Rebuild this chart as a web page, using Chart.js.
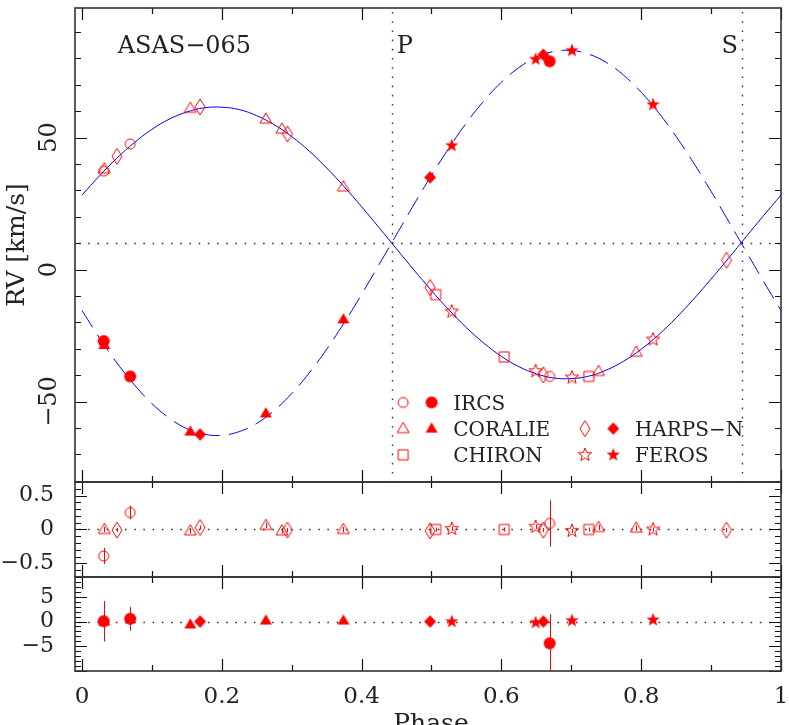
<!DOCTYPE html>
<html><head><meta charset="utf-8">
<script src="https://cdn.jsdelivr.net/npm/chart.js@4/dist/chart.umd.min.js"></script>
<style>html,body{margin:0;padding:0;background:#fff;overflow:hidden}#wrap{width:789px;height:725px;position:relative}</style>
</head><body><div id="wrap"><canvas id="c" width="789" height="725"></canvas></div>
<script>
// ---------------- data ----------------
const ircsPhase  = [0.031, 0.069, 0.669];
const ircsRV1    = [37.3, 47.6, -40.5];
const ircsRV2    = [-27.1, -40.5, 78.9];
const ircsRes1   = [-0.39, 0.25, 0.09];
const ircsErr1   = [0.12, 0.10, 0.34];
const ircsRes2   = [0.06, 0.55, -4.4];
const ircsErr2   = [4.1, 2.4, 5.9];

const coraliePhase = [0.032, 0.155, 0.263, 0.286, 0.374, 0.739, 0.793];
const coralieRV1   = [38.2, 61.1, 57.0, 53.2, 31.3, -38.6, -31.3];
const coralieRV2   = [-28.6, -61.4, -54.5, null, -18.9, null, null];
const coralieRes1  = [0.00, -0.02, 0.06, -0.02, 0.00, 0.03, 0.02];
const coralieErr1  = [0.04, 0.04, 0.04, 0.04, 0.04, 0.04, 0.04];
const coralieRes2  = [0.0, -0.6, 0.2, null, 0.2, null, null];
const coralieErr2  = [0.5, 0.5, 0.5, null, 0.5, null, null];

const harpsPhase = [0.050, 0.169, 0.294, 0.498, 0.660, 0.922];
const harpsRV1   = [42.9, 61.6, 51.4, -6.8, -39.9, 3.5];
const harpsRV2   = [null, -62.5, null, 34.9, 81.4, null];
const harpsRes1  = [-0.01, 0.03, -0.01, -0.02, -0.01, -0.01];
const harpsErr1  = [0.03, 0.03, 0.03, 0.03, 0.03, 0.03];
const harpsRes2  = [null, 0.0, null, 0.0, 0.0, null];
const harpsErr2  = [null, 0.4, null, 0.4, 0.4, null];

const chironPhase = [0.506, 0.604, 0.725];
const chironRV1   = [-9.5, -33.1, -40.5];
const chironRes1  = [0.00, 0.00, 0.00];
const chironErr1  = [0.03, 0.03, 0.03];

const ferosPhase = [0.529, 0.649, 0.701, 0.817];
const ferosRV1   = [-15.9, -38.5, -40.9, -26.5];
const ferosRV2   = [47.0, 79.7, 83.0, 62.5];
const ferosRes1  = [0.01, 0.04, -0.02, 0.00];
const ferosErr1  = [0.03, 0.03, 0.03, 0.03];
const ferosRes2  = [0.0, -0.2, 0.2, 0.35];
const ferosErr2  = [0.4, 0.4, 0.4, 0.4];

// orbit model curves
const curvePhase = [0, 0.025, 0.05, 0.075, 0.1, 0.125, 0.15, 0.175, 0.2, 0.225, 0.25, 0.275, 0.3, 0.325, 0.35, 0.375, 0.4, 0.425, 0.45, 0.475, 0.5, 0.525, 0.55, 0.575, 0.6, 0.625, 0.65, 0.675, 0.7, 0.725, 0.75, 0.775, 0.8, 0.825, 0.85, 0.875, 0.9, 0.925, 0.95, 0.975, 1.0];
const curveRV1 = [28.2, 35.5, 42.2, 48.1, 53.1, 57.0, 59.7, 61.3, 61.5, 60.6, 58.3, 54.9, 50.4, 44.9, 38.5, 31.4, 23.8, 15.9, 7.8, -0.2, -8.0, -15.3, -22.0, -27.9, -32.9, -36.8, -39.5, -41.1, -41.3, -40.4, -38.1, -34.7, -30.2, -24.7, -18.3, -11.2, -3.6, 4.3, 12.4, 20.4, 28.2];
const curveRV2 = [-15.5, -25.9, -35.4, -43.7, -50.8, -56.3, -60.3, -62.4, -62.8, -61.4, -58.3, -53.4, -47.0, -39.2, -30.2, -20.2, -9.4, 1.9, 13.3, 24.7, 35.7, 46.0, 55.6, 63.9, 71.0, 76.5, 80.5, 82.6, 83.0, 81.6, 78.5, 73.6, 67.2, 59.4, 50.4, 40.4, 29.6, 18.3, 6.9, -4.5, -15.5];

const gammaRV = 10.1;
const phaseP = 0.443;
const phaseS = 0.944;
const starName = 'ASAS\u2212065';

const xTickLabels  = [0, 0.2, 0.4, 0.6, 0.8, 1];
const rvTickLabels = [-50, 0, 50];
const r1TickLabels = [-0.5, 0, 0.5];
const r2TickLabels = [-5, 0, 5];

const legendLabels = ['IRCS', 'CORALIE', 'CHIRON', 'HARPS\u2212N', 'FEROS'];

// ---------------- styling ----------------
const FONT = '"DejaVu Serif", "Liberation Serif", serif';
const RED = '#ff0000';
const BLUE = '#0000ff';
const INK = '#222222';

function makeMarker(shape, filled) {
  const s = 18, m = 9;
  const c = document.createElement('canvas');
  c.width = s; c.height = s;
  const g = c.getContext('2d');
  g.beginPath();
  if (shape === 'circle') {
    g.arc(m, m, filled ? 6 : 5, 0, 2 * Math.PI);
  } else if (shape === 'triangle') {
    g.moveTo(m, m - 6.2); g.lineTo(m + 6, m + 4); g.lineTo(m - 6, m + 4); g.closePath();
  } else if (shape === 'square') {
    g.rect(m - 5, m - 5, 10, 10);
  } else if (shape === 'diamond') {
    const w = filled ? 6 : 5, h = filled ? 6.3 : 8;
    g.moveTo(m, m - h); g.lineTo(m + w, m); g.lineTo(m, m + h); g.lineTo(m - w, m); g.closePath();
  } else if (shape === 'star') {
    const R = 7, r = 2.9;
    for (let k = 0; k < 10; k++) {
      const a = -Math.PI / 2 + k * Math.PI / 5;
      const rr = k % 2 === 0 ? R : r;
      const px = m + rr * Math.cos(a), py = m + rr * Math.sin(a);
      if (k === 0) g.moveTo(px, py); else g.lineTo(px, py);
    }
    g.closePath();
  }
  if (filled) { g.fillStyle = RED; g.fill(); }
  else { g.strokeStyle = RED; g.lineWidth = 1; g.stroke(); }
  return c;
}
const MK = {};
['circle', 'triangle', 'square', 'diamond', 'star'].forEach(s => {
  MK[s + 'O'] = makeMarker(s, false);
  MK[s + 'F'] = makeMarker(s, true);
});

function pts(xs, ys, es) {
  const out = [], err = [];
  xs.forEach((x, i) => {
    if (ys[i] === null || ys[i] === undefined) return;
    out.push({x: x, y: ys[i]});
    err.push(es ? es[i] : null);
  });
  return {data: out, errors: err};
}
function markerSet(label, xs, ys, es, axis, marker) {
  const p = pts(xs, ys, es);
  return {
    label: label, data: p.data, errors: es ? p.errors : null, yAxisID: axis,
    showLine: false, pointStyle: MK[marker], pointRadius: 7, pointHoverRadius: 7,
    borderColor: RED, backgroundColor: RED, order: 1
  };
}

const datasets = [
  {label: 'primary orbit', data: curvePhase.map((x, i) => ({x: x, y: curveRV1[i]})), yAxisID: 'y',
   showLine: true, borderColor: BLUE, borderWidth: 1, pointRadius: 0, tension: 0.4, order: 10},
  {label: 'secondary orbit', data: curvePhase.map((x, i) => ({x: x, y: curveRV2[i]})), yAxisID: 'y',
   showLine: true, borderColor: BLUE, borderWidth: 1, borderDash: [20, 9], pointRadius: 0, tension: 0.4, order: 10},

  markerSet('IRCS 1', ircsPhase, ircsRV1, null, 'y', 'circleO'),
  markerSet('IRCS 2', ircsPhase, ircsRV2, null, 'y', 'circleF'),
  markerSet('CORALIE 1', coraliePhase, coralieRV1, null, 'y', 'triangleO'),
  markerSet('CORALIE 2', coraliePhase, coralieRV2, null, 'y', 'triangleF'),
  markerSet('HARPS-N 1', harpsPhase, harpsRV1, null, 'y', 'diamondO'),
  markerSet('HARPS-N 2', harpsPhase, harpsRV2, null, 'y', 'diamondF'),
  markerSet('CHIRON 1', chironPhase, chironRV1, null, 'y', 'squareO'),
  markerSet('FEROS 1', ferosPhase, ferosRV1, null, 'y', 'starO'),
  markerSet('FEROS 2', ferosPhase, ferosRV2, null, 'y', 'starF'),

  markerSet('IRCS r1', ircsPhase, ircsRes1, ircsErr1, 'r1', 'circleO'),
  markerSet('CORALIE r1', coraliePhase, coralieRes1, coralieErr1, 'r1', 'triangleO'),
  markerSet('HARPS-N r1', harpsPhase, harpsRes1, harpsErr1, 'r1', 'diamondO'),
  markerSet('CHIRON r1', chironPhase, chironRes1, chironErr1, 'r1', 'squareO'),
  markerSet('FEROS r1', ferosPhase, ferosRes1, ferosErr1, 'r1', 'starO'),

  markerSet('IRCS r2', ircsPhase, ircsRes2, ircsErr2, 'r2', 'circleF'),
  markerSet('CORALIE r2', coraliePhase, coralieRes2, coralieErr2, 'r2', 'triangleF'),
  markerSet('HARPS-N r2', harpsPhase, harpsRes2, harpsErr2, 'r2', 'diamondF'),
  markerSet('FEROS r2', ferosPhase, ferosRes2, ferosErr2, 'r2', 'starF'),
];

const fmt = v => String(Math.round(v * 1000) / 1000).replace('-', '\u2212');

// panels: minor / major tick steps
const panelTicks = {
  y:  {minor: 10,  major: 50,  zero: gammaRV},
  r1: {minor: 0.1, major: 0.5, zero: 0},
  r2: {minor: 1,   major: 5,   zero: 0},
};
const xMinor = 0.1, xMajor = 0.2;

function tickValues(min, max, step) {
  const out = [];
  const k0 = Math.ceil(min / step - 1e-9), k1 = Math.floor(max / step + 1e-9);
  for (let k = k0; k <= k1; k++) out.push(k * step);
  return out;
}
const isMajor = (v, major) => Math.abs(v / major - Math.round(v / major)) < 1e-6;

const errorBarPlugin = {
  id: 'errbars',
  beforeDatasetsDraw(chart) {
    const ctx = chart.ctx, xs = chart.scales.x;
    chart.data.datasets.forEach((ds, i) => {
      if (!ds.errors || !chart.isDatasetVisible(i)) return;
      const ys = chart.scales[ds.yAxisID];
      ctx.save();
      ctx.beginPath(); ctx.rect(xs.left, ys.top, xs.right - xs.left, ys.bottom - ys.top); ctx.clip();
      ctx.strokeStyle = RED; ctx.lineWidth = 1;
      ds.data.forEach((p, j) => {
        const e = ds.errors[j];
        if (e === null || e === undefined) return;
        const px = Math.round(xs.getPixelForValue(p.x)) + 0.5;
        ctx.beginPath();
        ctx.moveTo(px, ys.getPixelForValue(p.y + e));
        ctx.lineTo(px, ys.getPixelForValue(p.y - e));
        ctx.stroke();
      });
      ctx.restore();
    });
  }
};

const framePlugin = {
  id: 'frames',
  beforeDatasetsDraw(chart) {
    const ctx = chart.ctx, xs = chart.scales.x;
    const L = xs.left, R = xs.right;
    Object.keys(panelTicks).forEach(id => {
      const ys = chart.scales[id], cfg = panelTicks[id];
      const T = ys.top, B = ys.bottom;
      ctx.save();
      // dotted reference lines
      ctx.strokeStyle = '#333'; ctx.lineWidth = 1.4; ctx.setLineDash([1.6, 7.6]);
      const zy = Math.round(ys.getPixelForValue(cfg.zero)) + 0.5;
      ctx.beginPath(); ctx.moveTo(L + 4, zy); ctx.lineTo(R, zy); ctx.stroke();
      if (id === 'y') {
        [phaseP, phaseS].forEach(ph => {
          const px = Math.round(xs.getPixelForValue(ph)) + 0.5;
          ctx.beginPath(); ctx.moveTo(px, T + 4); ctx.lineTo(px, B); ctx.stroke();
        });
      }
      ctx.setLineDash([]);
      // ticks
      ctx.strokeStyle = '#111'; ctx.lineWidth = 1.2;
      ctx.beginPath();
      tickValues(xs.min, xs.max, xMinor).forEach(v => {
        const px = Math.round(xs.getPixelForValue(v)) + 0.5;
        const len = isMajor(v, xMajor) ? 12 : 6;
        ctx.moveTo(px, T); ctx.lineTo(px, T + len);
        ctx.moveTo(px, B); ctx.lineTo(px, B - len);
      });
      tickValues(ys.min, ys.max, cfg.minor).forEach(v => {
        const py = Math.round(ys.getPixelForValue(v)) + 0.5;
        const len = isMajor(v, cfg.major) ? 12 : 6;
        ctx.moveTo(L, py); ctx.lineTo(L + len, py);
        ctx.moveTo(R, py); ctx.lineTo(R - len, py);
      });
      ctx.stroke();
      // frame
      ctx.strokeStyle = '#333'; ctx.lineWidth = 1.6;
      ctx.strokeRect(L, T, R - L, B - T);
      ctx.restore();
    });
  },
  afterDraw(chart) {
    const ctx = chart.ctx, xs = chart.scales.x, ys = chart.scales.y;
    ctx.save();
    ctx.fillStyle = INK;
    ctx.textBaseline = 'alphabetic';
    // star name and conjunction labels
    ctx.font = '24px ' + FONT;
    const topBase = ys.getPixelForValue(82.2);
    ctx.textAlign = 'left';
    ctx.fillText(starName, xs.getPixelForValue(0.051), topBase);
    ctx.fillText('P', xs.getPixelForValue(phaseP) + 5, topBase);
    ctx.textAlign = 'right';
    ctx.fillText('S', xs.getPixelForValue(phaseS) - 4, topBase);
    // x axis title
    ctx.textAlign = 'center';
    ctx.font = '25px ' + FONT;
    ctx.fillText('Phase', (xs.left + xs.right) / 2 + 3, xs.bottom + 6);
    // legend
    const ox = xs.getPixelForValue(0.4595), oy = ys.getPixelForValue(-50.35);
    const rowH = 26.2, colW = 181.7, filledDx = 28.4, textDx = 50;
    ctx.font = '20px ' + FONT;
    ctx.textAlign = 'left';
    const entries = [
      {col: 0, row: 0, text: legendLabels[0], o: 'circleO', f: 'circleF'},
      {col: 0, row: 1, text: legendLabels[1], o: 'triangleO', f: 'triangleF'},
      {col: 0, row: 2, text: legendLabels[2], o: 'squareO', f: null},
      {col: 1, row: 1, text: legendLabels[3], o: 'diamondO', f: 'diamondF'},
      {col: 1, row: 2, text: legendLabels[4], o: 'starO', f: 'starF'},
    ];
    entries.forEach(e => {
      const x0 = ox + e.col * colW, y0 = oy + e.row * rowH;
      const a = MK[e.o];
      ctx.drawImage(a, x0 - a.width / 2, y0 - a.height / 2);
      if (e.f) { const b = MK[e.f]; ctx.drawImage(b, x0 + filledDx - b.width / 2, y0 - b.height / 2); }
      ctx.fillText(e.text, x0 + textDx, y0 + 7.3);
    });
    ctx.restore();
  }
};

function noPad(s) { s.paddingTop = 0; s.paddingBottom = 0; s.paddingLeft = 0; s.paddingRight = 0; }

const common = () => ({
  type: 'linear', position: 'left', stack: 'panels',
  grid: {display: false, drawTicks: false}, border: {display: false},
  afterFit: s => { s.width = 75; noPad(s); },
});

new Chart(document.getElementById('c'), {
  type: 'scatter',
  data: {datasets: datasets},
  options: {
    responsive: false, animation: false, devicePixelRatio: 1,
    layout: {padding: {top: 1, right: 8, left: 0, bottom: 0}},
    plugins: {legend: {display: false}, tooltip: {enabled: false}},
    scales: {
      x: {
        type: 'linear', position: 'bottom', min: -0.01, max: 1.0,
        grid: {display: false, drawTicks: false}, border: {display: false},
        afterBuildTicks: s => { s.ticks = xTickLabels.map(v => ({value: v})); },
        afterFit: s => { s.height = 54; noPad(s); },
        ticks: {font: {family: FONT, size: 23}, color: INK, padding: 12, maxRotation: 0, autoSkip: false, callback: v => fmt(v)}
      },
      y: Object.assign(common(), {
        stackWeight: 479, weight: 3, min: -80.5, max: 99.1,
        afterBuildTicks: s => { s.ticks = rvTickLabels.map(v => ({value: v})); },
        ticks: {font: {family: FONT, size: 24}, color: INK, minRotation: 90, maxRotation: 90, crossAlign: 'center', padding: 0, autoSkip: false, callback: v => fmt(v)},
        title: {display: true, text: 'RV [km/s]', font: {family: FONT, size: 25}, color: INK, padding: {top: 2, bottom: 0}}
      }),
      r1: Object.assign(common(), {
        stackWeight: 96, weight: 2, min: -0.7, max: 0.7,
        afterBuildTicks: s => { s.ticks = r1TickLabels.map(v => ({value: v})); },
        ticks: {font: {family: FONT, size: 22}, color: INK, padding: 21, autoSkip: false, callback: v => fmt(v)}
      }),
      r2: Object.assign(common(), {
        stackWeight: 95, weight: 1, min: -10, max: 9,
        afterBuildTicks: s => { s.ticks = r2TickLabels.map(v => ({value: v})); },
        ticks: {font: {family: FONT, size: 22}, color: INK, padding: 21, autoSkip: false, callback: v => fmt(v)}
      })
    }
  },
  plugins: [errorBarPlugin, framePlugin]
});
</script></body></html>
